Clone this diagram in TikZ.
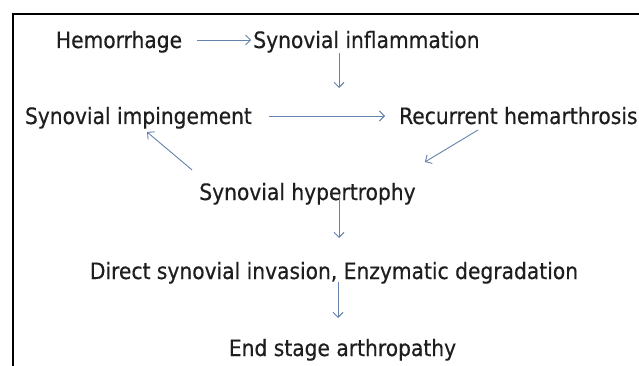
\documentclass[tikz,border=0pt]{standalone}
\usepackage{fontspec}
\setmainfont{DejaVu Sans Condensed}
\newfontfamily\lblfont{DejaVu Sans Condensed}[FakeBold=0.4]
\usetikzlibrary{calc,arrows.meta}
\definecolor{txt}{RGB}{30,30,30}
\definecolor{arrc}{RGB}{100,130,172}
\tikzset{
  lbl/.style={inner sep=0pt, text=txt, font=\lblfont\fontsize{22.5}{26}\selectfont, anchor=base},
  arr/.style={draw=arrc, line width=0.9pt, -{Straight Barb[length=5pt,width=10pt]}},
}
\begin{document}
\begin{tikzpicture}[x=1pt,y=1pt]
\useasboundingbox (0,0) rectangle (639,-366);
\fill[white] (0,0) rectangle (639,-366);
\draw[black, line width=2pt] (12.5,-370) -- (12.5,-14.5) -- (645,-14.5);

\node[lbl] (hem) at (119,-48) {Hemorrhage};
\node[lbl] (inf) at (366.5,-48) {Synovial inflammation};
\node[lbl] (imp) at (138.5,-124) {Synovial impingement};
\node[lbl, anchor=base west] (rec) at (399,-124) {Recurrent hemarthrosis};
\node[lbl] (hyp) at (307.5,-200) {Synovial hypertrophy};
\node[lbl] (dir) at (334,-279) {Direct synovial invasion, Enzymatic degradation};
\node[lbl] (end) at (342.5,-356) {End stage arthropathy};

\coordinate (mid) at (339,-88);

\draw[arr] ($(hem.base east)+(15,8)$) -- ($(inf.base west)+(-2,8)$);
\draw[arr] ($(inf.base)+(-27.5,-5)$) -- (mid);
\draw[arr] ($(imp.base east)+(17,8)$) -- ($(rec.base west)+(-14,8)$);
\draw[arr] ($(hyp.base west)+(-7,30)$) -- ($(imp.base)+(8.5,-8)$);
\draw[arr] ($(rec.base west)+(79,-6)$) -- ($(hyp.base east)+(9,38)$);
\draw[arr] ($(hyp.base)+(31.5,5)$) -- ($(dir.base)+(5,41)$);
\draw[arr] ($(dir.base)+(4,-3)$) -- ($(end.base)+(-4.5,38)$);
\end{tikzpicture}
\end{document}
